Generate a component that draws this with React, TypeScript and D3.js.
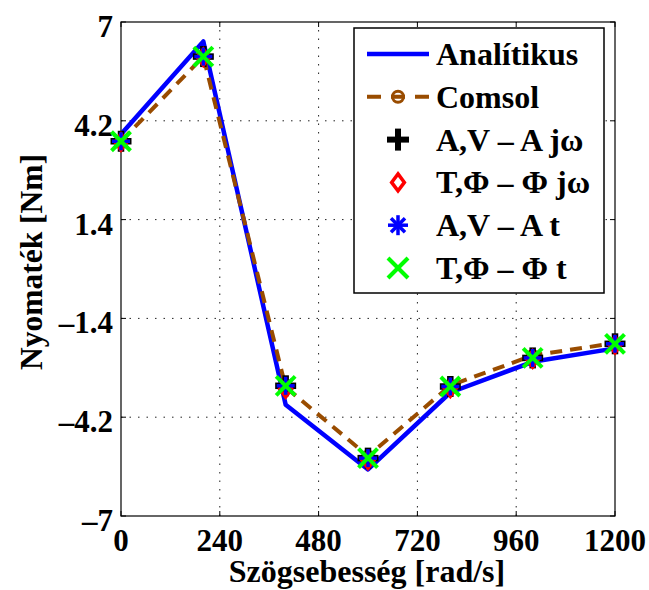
import * as d3 from "d3";

const speeds = [0, 200, 400, 600, 800, 1000, 1200];
const analitikus = [3.82, 6.45, -3.85, -5.68, -3.5, -2.63, -2.25];
const comsol = [3.62, 6.02, -3.35, -5.3, -3.3, -2.45, -2.1];
const avJw = [3.62, 6.02, -3.31, -5.36, -3.33, -2.52, -2.12];
const tfJw = [3.6, 6.0, -3.4, -5.42, -3.38, -2.55, -2.15];
const avT = [3.62, 6.02, -3.31, -5.36, -3.33, -2.52, -2.12];
const tfT = [3.62, 6.02, -3.31, -5.36, -3.33, -2.52, -2.12];

const xTicks = [0, 240, 480, 720, 960, 1200];
const yTicks = [-7, -4.2, -1.4, 1.4, 4.2, 7];

const legendLabels = [
  "Analítikus",
  "Comsol",
  "A,V – A jω",
  "T,Φ – Φ jω",
  "A,V – A t",
  "T,Φ – Φ t",
];

const BLUE = "#0000ff";
const BROWN = "#994c00";
const GREEN = "#00ff00";
const RED = "#ff0000";
const FONT = "Liberation Serif, Times New Roman, serif";

const plusMark = (cx: number, cy: number, s: number, sw: number, color: string, key?: any) => (
  <g key={key} stroke={color} strokeWidth={sw} strokeLinecap="butt">
    <line x1={cx - s} x2={cx + s} y1={cy} y2={cy} />
    <line x1={cx} x2={cx} y1={cy - s} y2={cy + s} />
  </g>
);

const diamondMark = (cx: number, cy: number, s: number, key?: any) => (
  <path
    key={key}
    d={`M${cx},${cy - s}L${cx + s * 0.75},${cy}L${cx},${cy + s}L${cx - s * 0.75},${cy}Z`}
    fill="none"
    stroke={RED}
    strokeWidth={3.5}
  />
);

const starMark = (cx: number, cy: number, s: number, key?: any) => {
  const d = s * 0.7;
  return (
    <g key={key} stroke={BLUE} strokeWidth={3.5}>
      <line x1={cx - s} x2={cx + s} y1={cy} y2={cy} />
      <line x1={cx} x2={cx} y1={cy - s} y2={cy + s} />
      <line x1={cx - d} x2={cx + d} y1={cy - d} y2={cy + d} />
      <line x1={cx - d} x2={cx + d} y1={cy + d} y2={cy - d} />
    </g>
  );
};

const xMark = (cx: number, cy: number, s: number, key?: any) => (
  <g key={key} stroke={GREEN} strokeWidth={4}>
    <line x1={cx - s} x2={cx + s} y1={cy - s} y2={cy + s} />
    <line x1={cx - s} x2={cx + s} y1={cy + s} y2={cy - s} />
  </g>
);

export default function App() {
  const width = 649;
  const height = 590;
  const margin = { top: 22, right: 34, bottom: 74, left: 121 };
  const x = d3.scaleLinear().domain([0, 1200]).range([margin.left, width - margin.right]);
  const y = d3.scaleLinear().domain([-7, 7]).range([height - margin.bottom, margin.top]);
  const x0 = x(0), x1 = x(1200), y0 = y(-7), y1 = y(7);

  const line = d3.line<number>()
    .x((_, i) => x(speeds[i]))
    .y(d => y(d));

  const fmt = (v: number) => (v < 0 ? "–" : "") + Math.abs(v).toString();

  const legX = 354, legY = 28, legW = 250, legH = 265;
  const rowY = (i: number) => 54 + i * 42.8;

  return (
    <svg
      width={width}
      height={height}
      style={{ position: "absolute", left: 0, top: 0, background: "#fff", fontFamily: FONT, fontWeight: "bold" }}
    >
      <rect width={width} height={height} fill="#fff" />

      {/* grid */}
      <g stroke="#222" strokeWidth={1} strokeDasharray="1.5,7">
        {xTicks.slice(1, -1).map(t => (
          <line key={t} x1={x(t)} x2={x(t)} y1={y0} y2={y1} />
        ))}
        {yTicks.slice(1, -1).map(t => (
          <line key={t} x1={x0} x2={x1} y1={y(t)} y2={y(t)} />
        ))}
      </g>

      {/* ticks */}
      <g stroke="#000" strokeWidth={1}>
        {xTicks.map(t => (
          <g key={t}>
            <line x1={x(t)} x2={x(t)} y1={y0} y2={y0 - 5} />
            <line x1={x(t)} x2={x(t)} y1={y1} y2={y1 + 5} />
          </g>
        ))}
        {yTicks.map(t => (
          <g key={t}>
            <line x1={x0} x2={x0 + 5} y1={y(t)} y2={y(t)} />
            <line x1={x1} x2={x1 - 5} y1={y(t)} y2={y(t)} />
          </g>
        ))}
      </g>
      <rect x={x0} y={y1} width={x1 - x0} height={y0 - y1} fill="none" stroke="#000" strokeWidth={1.2} />

      {/* tick labels */}
      <g style={{ fontSize: 31 }} fill="#000">
        {xTicks.map(t => (
          <text key={t} x={x(t)} y={551} textAnchor="middle">{t}</text>
        ))}
        {yTicks.map(t => (
          <text key={t} x={113} y={y(t) + 15} textAnchor="end">{fmt(t)}</text>
        ))}
      </g>

      {/* axis titles */}
      <text x={367} y={582} textAnchor="middle" style={{ fontSize: 32 }}>Szögsebesség [rad/s]</text>
      <text transform="translate(42,262) rotate(-90)" textAnchor="middle" style={{ fontSize: 31.5 }}>Nyomaték [Nm]</text>

      {/* series */}
      <path d={line(analitikus) || ""} fill="none" stroke={BLUE} strokeWidth={4.5} strokeLinejoin="round" />
      <path d={line(comsol) || ""} fill="none" stroke={BROWN} strokeWidth={4} strokeDasharray="12,8" />
      {comsol.map((v, i) => (
        <circle key={i} cx={x(speeds[i])} cy={y(v)} r={5} fill="none" stroke={BROWN} strokeWidth={3} />
      ))}
      {avJw.map((v, i) => plusMark(x(speeds[i]), y(v), 10.5, 6.5, "#000", i))}
      {tfJw.map((v, i) => diamondMark(x(speeds[i]), y(v), 8, i))}
      {avT.map((v, i) => starMark(x(speeds[i]), y(v), 9, i))}
      {tfT.map((v, i) => xMark(x(speeds[i]), y(v), 9.5, i))}

      {/* legend */}
      <rect x={legX} y={legY} width={legW} height={legH} fill="#fff" stroke="#000" strokeWidth={1.5} />
      <line x1={367} x2={429} y1={rowY(0)} y2={rowY(0)} stroke={BLUE} strokeWidth={4.5} />
      <line x1={367} x2={429} y1={rowY(1)} y2={rowY(1)} stroke={BROWN} strokeWidth={4} strokeDasharray="14,10" />
      <circle cx={398} cy={rowY(1)} r={5.5} fill="none" stroke={BROWN} strokeWidth={3} />
      {plusMark(398, rowY(2), 11, 6, "#000")}
      {diamondMark(398, rowY(3), 8.5)}
      {starMark(398, rowY(4), 10)}
      {xMark(398, rowY(5), 10)}
      <g style={{ fontSize: 32 }} fill="#000">
        {legendLabels.map((l, i) => (
          <text key={l} x={436} y={rowY(i) + 11}>{l}</text>
        ))}
      </g>
    </svg>
  );
}
